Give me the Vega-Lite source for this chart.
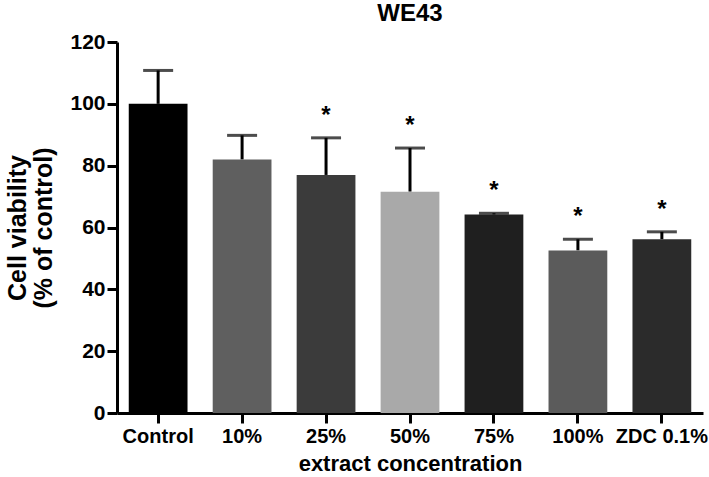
{
  "$schema": "https://vega.github.io/schema/vega-lite/v6.json",
  "width": 586,
  "height": 371,
  "autosize": "none",
  "padding": {"left": 117, "top": 42, "right": 6, "bottom": 64},
  "background": "white",
  "title": {
    "text": "WE43",
    "font": "Liberation Sans",
    "fontSize": 24,
    "fontWeight": "bold",
    "color": "black",
    "anchor": "middle",
    "baseline": "alphabetic",
    "offset": 0,
    "dy": 14
  },
  "data": {
    "values": [
      {"group": "Control", "mean": 100, "upper": 110.8, "sig": ""},
      {"group": "10%", "mean": 82, "upper": 89.8, "sig": ""},
      {"group": "25%", "mean": 77, "upper": 89, "sig": "*"},
      {"group": "50%", "mean": 71.6, "upper": 85.7, "sig": "*"},
      {"group": "75%", "mean": 64.2, "upper": 64.6, "sig": "*"},
      {"group": "100%", "mean": 52.6, "upper": 56.2, "sig": "*"},
      {"group": "ZDC 0.1%", "mean": 56.2, "upper": 58.6, "sig": "*"}
    ]
  },
  "encoding": {
    "x": {
      "field": "group",
      "type": "nominal",
      "sort": null,
      "scale": {"paddingInner": 0.3, "paddingOuter": 0.14},
      "axis": {
        "title": "extract concentration",
        "labelAngle": 0,
        "labelFont": "Liberation Sans",
        "labelFontSize": 20,
        "labelFontWeight": "bold",
        "labelColor": "black",
        "labelPadding": 3,
        "titleFont": "Liberation Sans",
        "titleFontSize": 22,
        "titleFontWeight": "bold",
        "titleColor": "black",
        "titlePadding": 7,
        "domainColor": "black",
        "domainWidth": 3,
        "tickColor": "black",
        "tickWidth": 3,
        "tickSize": 10
      }
    }
  },
  "layer": [
    {
      "mark": {"type": "rule", "strokeWidth": 3, "color": "black"},
      "encoding": {
        "y": {"field": "mean", "type": "quantitative"},
        "y2": {"field": "upper"}
      }
    },
    {
      "mark": {"type": "tick", "orient": "horizontal", "size": 30, "thickness": 3, "color": "black"},
      "encoding": {
        "y": {"field": "upper", "type": "quantitative"}
      }
    },
    {
      "mark": {"type": "bar"},
      "encoding": {
        "y": {
          "field": "mean",
          "type": "quantitative",
          "scale": {"domain": [0, 120], "nice": false},
          "axis": {
            "title": ["Cell viability", "(% of control)"],
            "values": [0, 20, 40, 60, 80, 100, 120],
            "grid": false,
            "labelFont": "Liberation Sans",
            "labelFontSize": 21,
            "labelFontWeight": "bold",
            "labelColor": "black",
            "labelPadding": 2,
            "titleFont": "Liberation Sans",
            "titleFontSize": 25,
            "titleFontWeight": "bold",
            "titleColor": "black",
            "titleLineHeight": 26,
            "titlePadding": 13,
            "domainColor": "black",
            "domainWidth": 3,
            "tickColor": "black",
            "tickWidth": 3,
            "tickSize": 10
          }
        },
        "color": {
          "field": "group",
          "type": "nominal",
          "sort": null,
          "legend": null,
          "scale": {
            "domain": ["Control", "10%", "25%", "50%", "75%", "100%", "ZDC 0.1%"],
            "range": ["#000000", "#5f5f5f", "#3b3b3b", "#a9a9a9", "#1f1f1f", "#5b5b5b", "#2b2b2b"]
          }
        }
      }
    },
    {
      "mark": {
        "type": "text",
        "font": "Liberation Sans",
        "fontSize": 24,
        "fontWeight": "bold",
        "color": "black",
        "baseline": "alphabetic",
        "dy": -15
      },
      "encoding": {
        "y": {"field": "upper", "type": "quantitative"},
        "text": {"field": "sig"}
      }
    }
  ],
  "config": {"view": {"stroke": null}}
}
